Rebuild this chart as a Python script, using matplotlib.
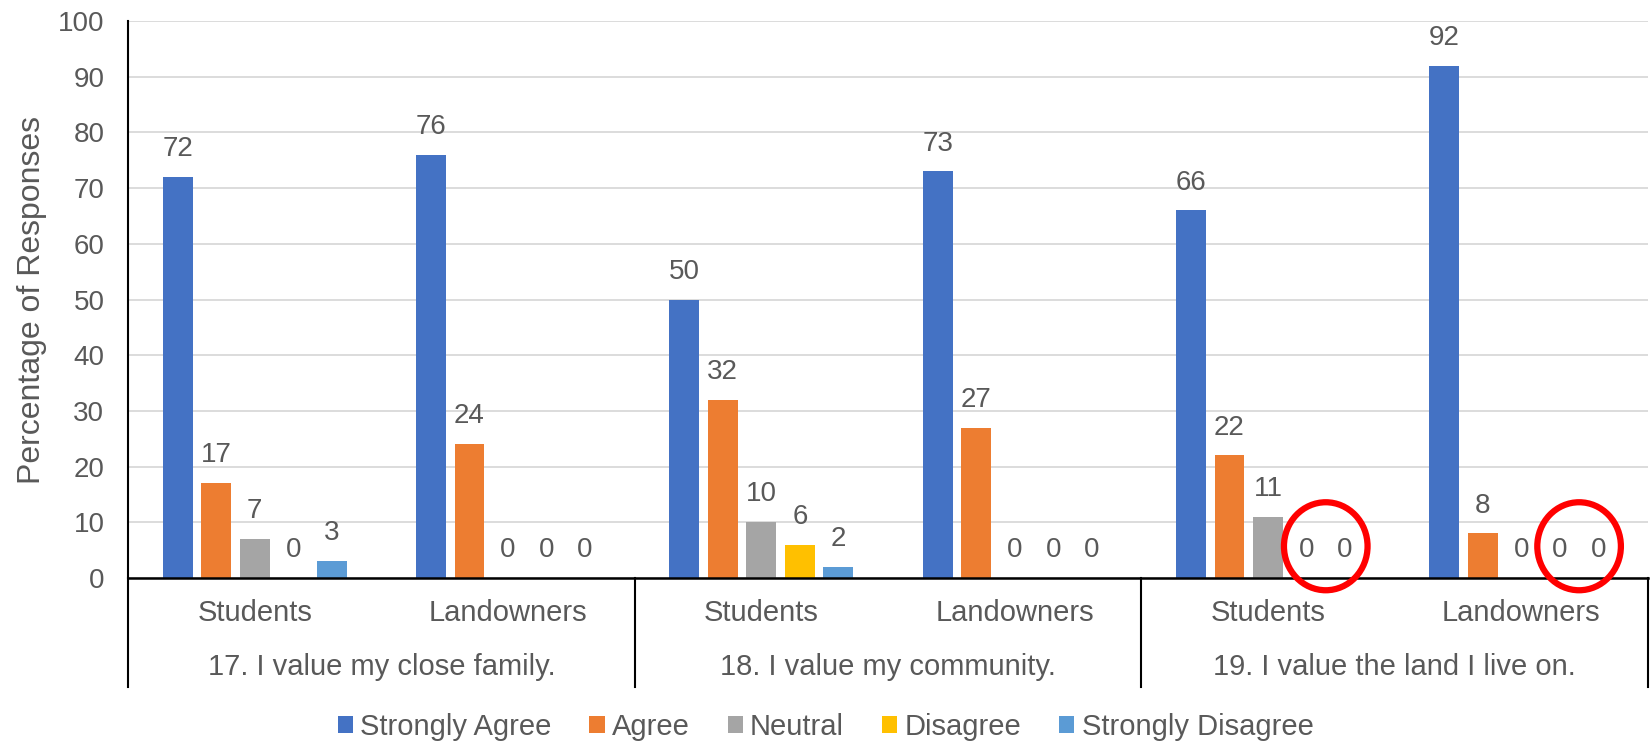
import matplotlib.pyplot as plt
import matplotlib.transforms as mtransforms
from matplotlib.patches import Ellipse
import numpy as np

plt.rcParams['font.family'] = ['Liberation Sans', 'DejaVu Sans']

# data
groups = ['Students', 'Landowners', 'Students', 'Landowners', 'Students', 'Landowners']
questions = ['17. I value my close family.', '18. I value my community.', '19. I value the land I live on.']
series = ['Strongly Agree', 'Agree', 'Neutral', 'Disagree', 'Strongly Disagree']
strongly_agree = [72, 76, 50, 73, 66, 92]
agree = [17, 24, 32, 27, 22, 8]
neutral = [7, 0, 10, 0, 11, 0]
disagree = [0, 0, 6, 0, 0, 0]
strongly_disagree = [3, 0, 2, 0, 0, 0]
values = [strongly_agree, agree, neutral, disagree, strongly_disagree]
colors = ['#4472C4', '#ED7D31', '#A5A5A5', '#FFC000', '#5B9BD5']

# circled zero labels: (group index, first series, second series)
circled = [(4, 3, 4), (5, 3, 4)]

txt = '#595959'
fig = plt.figure(figsize=(16.51, 7.41), dpi=100)
ax = fig.add_axes([128 / 1651, 1 - 578 / 741, 1520 / 1651, 557 / 741])

x = np.arange(len(groups))
step = 0.152
width = 0.118
for i, (name, vals, c) in enumerate(zip(series, values, colors)):
    pos = x + (i - 2) * step
    ax.bar(pos, vals, width=width, color=c, label=name, zorder=3)
    for px, v in zip(pos, vals):
        ax.annotate(str(v), (px, v), xytext=(0, 15), textcoords='offset points',
                    ha='center', va='baseline', fontsize=20, color=txt)

ax.set_xlim(-0.5, len(groups) - 0.5)
ax.set_ylim(0, 100)
ax.set_yticks(range(0, 101, 10))
ax.tick_params(axis='y', length=0, labelsize=20, labelcolor=txt, pad=17)
ax.set_xticks([])
ax.grid(axis='y', color='#D9D9D9', linewidth=1.3, zorder=0)
ax.set_ylabel('Percentage of Responses', fontsize=23, color=txt, labelpad=8)
for s in ['top', 'right']:
    ax.spines[s].set_visible(False)
ax.spines['bottom'].set_linewidth(1.8)
ax.spines['bottom'].set_zorder(4)
ax.spines['left'].set_linewidth(1.5)

# multi-level category axis
trans = mtransforms.blended_transform_factory(ax.transData, ax.transAxes)
bottom = -0.196
for xd in [-0.5, 1.5, 3.5, 5.5]:
    ax.plot([xd, xd], [0, bottom], transform=trans, color='black', lw=1.5, clip_on=False)
for xi, g in zip(x, groups):
    ax.text(xi, -0.063, g, transform=trans, ha='center', va='center', fontsize=21, color=txt)
for qi, q in enumerate(questions):
    ax.text(2 * qi + 0.5, -0.16, q, transform=trans, ha='center', va='center', fontsize=21, color=txt)

# red circles around zero labels
for gi, s1, s2 in circled:
    cx = gi + (s1 + s2) / 2 * step - 2 * step
    ax.add_patch(Ellipse((cx, 5.7), width=0.33, height=15.8, fill=False,
                         edgecolor='#FF0000', lw=4.5, clip_on=False, zorder=6))

fig.legend(loc='center', bbox_to_anchor=(0.5, 1 - 727 / 741), ncol=5, frameon=False,
           fontsize=21, handlelength=0.52, handleheight=0.52, handletextpad=0.25,
           columnspacing=1.3, labelcolor=txt)

fig.savefig('out.png', dpi=100)
